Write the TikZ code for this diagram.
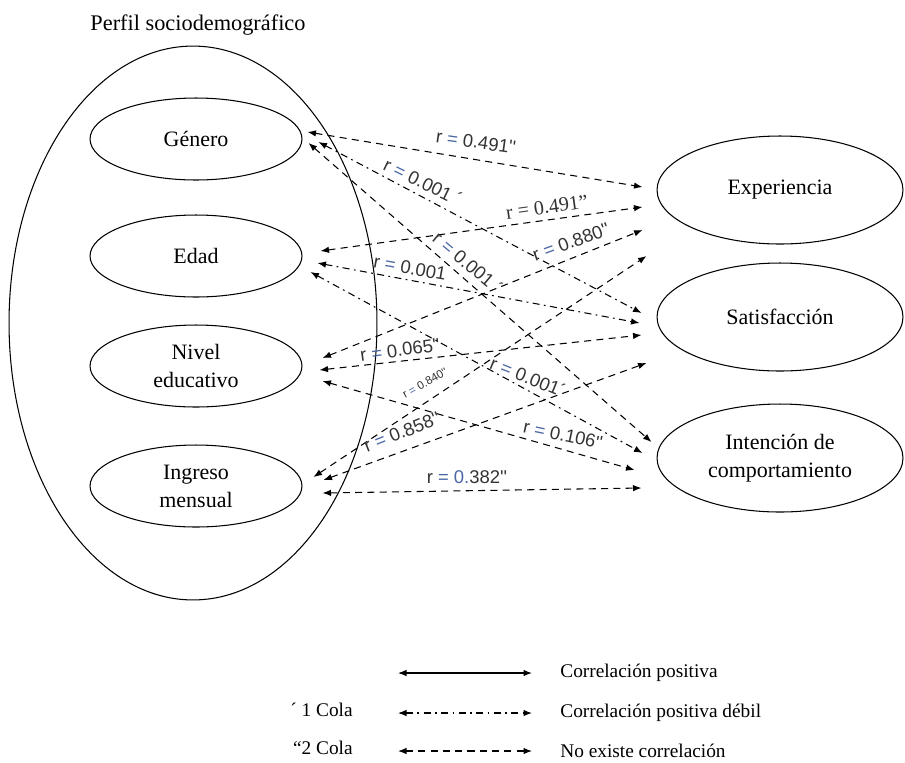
\documentclass[tikz,border=0pt]{standalone}
\usepackage{fontspec}
\setmainfont{Liberation Serif}
\newfontfamily\arialfont{Liberation Sans}
\usetikzlibrary{arrows.meta,shapes.geometric}

\definecolor{eqblue}{HTML}{4A67A3}
\definecolor{labgray}{HTML}{333333}
\newcommand{\req}{\textcolor{eqblue}{=}}

\tikzset{
  var/.style={draw, ellipse, line width=0.6pt, inner sep=0pt, align=center,
    minimum width=4.24cm, minimum height=1.64cm, font=\fontsize{12.5}{16}\selectfont},
  outcome/.style={var, minimum width=4.92cm, minimum height=2.16cm},
  link/.style={line width=0.6pt, {Latex[length=1.7mm,width=1.3mm]}-{Latex[length=1.7mm,width=1.3mm]}},
  poscorr/.style={link},
  weakcorr/.style={link, dash pattern=on 4pt off 2.5pt on 1pt off 2.5pt},
  nocorr/.style={link, dash pattern=on 4pt off 3pt},
  rlab/.style={font=\arialfont\fontsize{10.5}{12}\selectfont, text=labgray, inner sep=0.5pt},
  leglab/.style={font=\fontsize{11}{13}\selectfont, inner sep=0pt}
}

\begin{document}
\begin{tikzpicture}[x=0.02cm,y=-0.02cm]
  \useasboundingbox (0,0) rectangle (905,762);

  % Group of the profile variables
  \node[draw, ellipse, line width=0.6pt, minimum width=7.36cm, minimum height=11.08cm] (perfil) at (193,323) {};
  \node[font=\fontsize{12.7}{14}\selectfont] (titulo) at (198,25) {Perfil sociodemográfico};

  % Profile variables
  \node[var] (gen) at (196,139) {Género};
  \node[var] (edad) at (196,256) {Edad};
  \node[var] (nivel) at (196,366) {Nivel\\educativo};
  \node[var] (ingreso) at (196,486) {Ingreso\\mensual};

  % Outcome variables
  \node[outcome] (exp) at (780,190) {Experiencia};
  \node[outcome] (sat) at (780,317) {Satisfacción};
  \node[outcome] (int) at (780,458) {Intención de\\comportamiento};

  % Correlations of Genero
  \draw[nocorr] ([shift={(5,-7)}]gen.east) -- ([shift={(-14,-3)}]exp.west);
  \draw[weakcorr] ([shift={(16,3)}]gen.east) -- ([shift={(-15,-4)}]sat.west);
  \draw[nocorr] ([shift={(6,4)}]gen.east) -- ([shift={(-5,-16)}]int.west);

  % Correlations of Edad
  \draw[nocorr] ([shift={(18,-5)}]edad.east) -- ([shift={(-14,17)}]exp.west);
  \draw[weakcorr] ([shift={(15,7)}]edad.east) -- ([shift={(-17,6)}]sat.west);
  \draw[weakcorr] ([shift={(8,16)}]edad.east) -- ([shift={(-14,-5)}]int.west);

  % Correlations of Nivel educativo
  \draw[nocorr] ([shift={(20,-8)}]nivel.east) -- ([shift={(-14,40)}]exp.west);
  \draw[nocorr] ([shift={(17,4)}]nivel.east) -- ([shift={(-15,18)}]sat.west);
  \draw[nocorr] ([shift={(20,15)}]nivel.east) -- ([shift={(-22,12)}]int.west);

  % Correlations of Ingreso mensual
  \draw[nocorr] ([shift={(11,-9)}]ingreso.east) -- ([shift={(-10,66)}]exp.west);
  \draw[nocorr] ([shift={(21,-6)}]ingreso.east) -- ([shift={(-10,46)}]sat.west);
  \draw[nocorr] ([shift={(20,7)}]ingreso.east) -- ([shift={(-15,30)}]int.west);

  % Coefficients
  \node[rlab, rotate=-8] (rgenexp) at (476,142) {r \req{} 0.491''};
  \node[rlab, rotate=-26] (rgensat) at (423,182) {r \req{} 0.001 ´};
  \node[rlab, rotate=-40] (rgenint) at (468,263) {r \req{} 0.001 ´};
  \node[font=\fontsize{11.5}{13}\selectfont, inner sep=0.5pt, text=labgray, rotate=8] (redadexp) at (547,207) {r = 0.491''};
  \node[rlab, rotate=-10] (redadsat) at (410,268) {r \req{} 0.001};
  \node[rlab, rotate=-22] (redadint) at (528,377) {r \req{} 0.001´};
  \node[rlab, rotate=20] (rnivexp) at (571,242) {r \req{} 0.880''};
  \node[rlab, rotate=8] (rnivsat) at (400,350) {r \req{} 0.065''};
  \node[rlab, rotate=-12] (rnivint) at (563,435) {r \req{} 0.106''};
  \node[rlab, rotate=30, font=\arialfont\fontsize{6.5}{8}\selectfont] (ringexp) at (425,383) {r \req{} 0.840''};
  \node[rlab, rotate=22] (ringsat) at (402,432) {r \req{} 0.858''};
  \node[rlab] (ringint) at (467,477) {r \textcolor{eqblue}{= 0.}382''};

  % Legend
  \coordinate (l1a) at (398,673); \coordinate (l1b) at (532,673);
  \coordinate (l2a) at (398,713); \coordinate (l2b) at (532,713);
  \coordinate (l3a) at (398,751); \coordinate (l3b) at (532,751);
  \draw[poscorr] (l1a) -- (l1b);
  \draw[weakcorr] (l2a) -- (l2b);
  \draw[nocorr] (l3a) -- (l3b);
  \node[leglab, anchor=west] (leg1) at (560,673) {Correlación positiva};
  \node[leglab, anchor=west] (leg2) at (560,713) {Correlación positiva débil};
  \node[leglab, anchor=west] (leg3) at (560,751) {No existe correlación};
  \node[leglab, anchor=east] (cola1) at (353,710) {´ 1 Cola};
  \node[leglab, anchor=east] (cola2) at (353,748) {``2 Cola};
\end{tikzpicture}
\end{document}
